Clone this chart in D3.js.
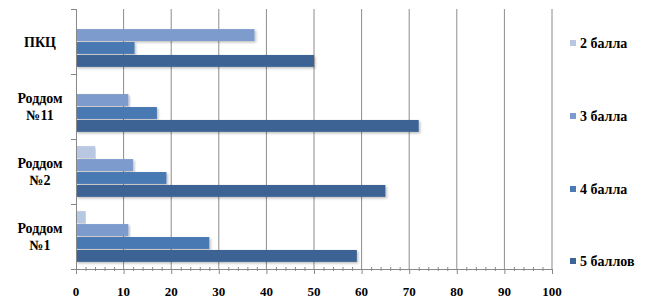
<!DOCTYPE html>
<html>
<head>
<meta charset="utf-8">
<script src="https://cdn.jsdelivr.net/npm/d3@7"></script>
<style>
  body { margin: 0; background: #fff; }
</style>
</head>
<body>
<svg id="chart" width="650" height="300"></svg>
<script>
const width = 650, height = 300;

// данные
const categories = [["ПКЦ"], ["Роддом", "№11"], ["Роддом", "№2"], ["Роддом", "№1"]];
const series = ["2 балла", "3 балла", "4 балла", "5 баллов"];
const colors = ["#b9c8e2", "#7d9ccd", "#4a79b3", "#3c6494"];
const ball2 = [0, 0, 4, 2];
const ball3 = [37.5, 11, 12, 11];
const ball4 = [12.3, 17, 19, 28];
const ball5 = [50, 72, 65, 59];
const values = [ball2, ball3, ball4, ball5];
const xTicks = d3.range(0, 101, 10);

const margin = { top: 9, left: 76, right: 98, bottom: 31 };
const svg = d3.select("#chart")
  .style("font-family", "\"Liberation Serif\"")
  .style("font-weight", "bold");

const defs = svg.append("defs");
const f = defs.append("filter").attr("id", "shadow").attr("x", "-5%").attr("y", "-30%").attr("width", "110%").attr("height", "180%");
f.append("feDropShadow").attr("dx", 1.5).attr("dy", 1.5).attr("stdDeviation", 0.8)
  .attr("flood-color", "#000").attr("flood-opacity", 0.25);

const x = d3.scaleLinear().domain([0, 100]).range([margin.left, width - margin.right]);
const y = d3.scaleBand().domain(d3.range(categories.length))
  .range([margin.top, height - margin.bottom]);
const y1 = d3.scaleBand().domain(d3.range(series.length))
  .range([0, y.bandwidth()]).paddingOuter(0.55).paddingInner(0.08);

const y0 = margin.top, yb = height - margin.bottom;

// сетка
svg.append("g").selectAll("line").data(xTicks.filter(d => d > 0)).join("line")
  .attr("x1", d => x(d)).attr("x2", d => x(d))
  .attr("y1", y0).attr("y2", yb)
  .attr("stroke", "#8c8c8c").attr("stroke-width", 1);

// столбики
const g = svg.append("g");
categories.forEach((c, i) => {
  series.forEach((s, j) => {
    const v = values[j][i];
    if (!v) return;
    g.append("rect")
      .attr("x", x(0)).attr("y", y(i) + y1(j))
      .attr("width", x(v) - x(0)).attr("height", y1.bandwidth())
      .attr("fill", colors[j])
      .attr("filter", "url(#shadow)");
  });
});

// ось X
const ax = svg.append("g");
ax.append("line").attr("x1", x(0)).attr("x2", x(100)).attr("y1", yb + 0.5).attr("y2", yb + 0.5)
  .attr("stroke", "#888");
ax.selectAll(".minor").data(d3.range(0, 101, 2).filter(d => d % 10)).join("line")
  .attr("x1", d => x(d) + 0.5).attr("x2", d => x(d) + 0.5)
  .attr("y1", yb - 2).attr("y2", yb + 2).attr("stroke", "#888");
ax.selectAll(".major").data(xTicks).join("line")
  .attr("x1", d => x(d) + 0.5).attr("x2", d => x(d) + 0.5)
  .attr("y1", yb).attr("y2", yb + 5).attr("stroke", "#888");
ax.selectAll("text").data(xTicks).join("text")
  .attr("x", d => x(d)).attr("y", yb + 27)
  .attr("text-anchor", "middle").style("font-size", "13px")
  .text(d => d);

// ось Y
const ay = svg.append("g");
ay.append("line").attr("x1", x(0) + 0.5).attr("x2", x(0) + 0.5).attr("y1", y0).attr("y2", yb)
  .attr("stroke", "#888");
ay.selectAll("line.t").data(d3.range(categories.length + 1)).join("line").attr("class", "t")
  .attr("x1", x(0) - 5).attr("x2", x(0))
  .attr("y1", d => y0 + d * y.step() + 0.5).attr("y2", d => y0 + d * y.step() + 0.5)
  .attr("stroke", "#888");
categories.forEach((c, i) => {
  const cy = y(i) + y.bandwidth() / 2;
  const t = ay.append("text").attr("text-anchor", "middle").style("font-size", "14px");
  c.forEach((line, k) => {
    t.append("tspan").attr("x", 40)
      .attr("y", cy + 5 + (k - (c.length - 1) / 2) * 17)
      .text(line);
  });
});

// легенда
const lg = svg.append("g");
const legY = [43, 116, 189, 261];
series.forEach((s, j) => {
  lg.append("rect").attr("x", 570).attr("y", legY[j] - 3).attr("width", 6).attr("height", 6)
    .attr("fill", colors[j]);
  lg.append("text").attr("x", 580).attr("y", legY[j] + 5).style("font-size", "14px").text(s);
});
</script>
</body>
</html>
